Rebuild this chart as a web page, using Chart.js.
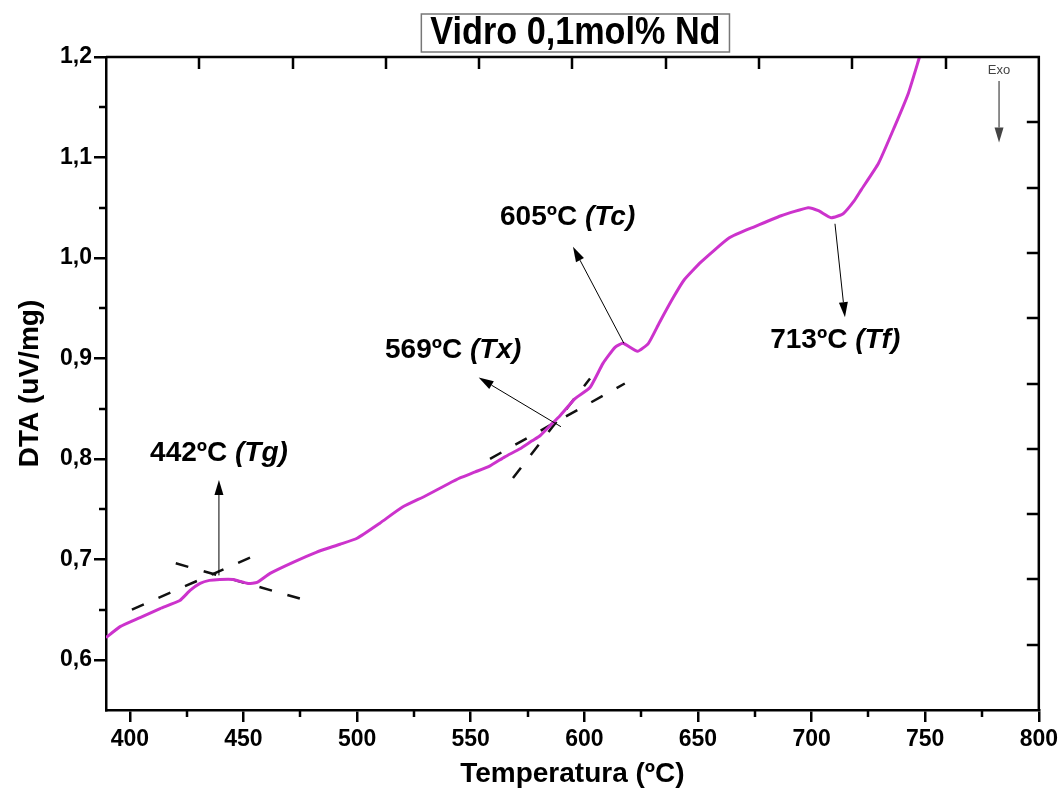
<!DOCTYPE html>
<html>
<head>
<meta charset="utf-8">
<title>Vidro 0,1mol% Nd</title>
<script src="https://cdn.jsdelivr.net/npm/chart.js@4.4.1/dist/chart.umd.min.js"></script>
<style>
  html, body { margin: 0; padding: 0; background: #fff; }
  #wrap { width: 1062px; height: 792px; }
</style>
</head>
<body>
<div id="wrap"><canvas id="dtaChart" width="1062" height="792"></canvas></div>
<script>
// curva DTA: temperatura (ºC) e sinal (uV/mg)
const temps = [389.5, 395.7, 404.5, 413.3, 422, 426.5, 430.9, 435, 439.6, 445.4, 452, 456, 461.7, 471.8, 482, 492.5,
  500, 510, 520, 530, 540, 545.3, 552, 558.5, 565, 571.7, 577, 580.5, 584.9, 589.3, 595.9, 602.5, 608.2, 613.5,
  617, 623.4, 628.2, 632.9, 639, 643.9, 651.4, 663.8, 674.8, 686.6, 698.5, 703, 708.6, 713.9, 718.8, 721.9,
  729.4, 736.4, 742.6, 747.5];
const dta = [0.622, 0.633, 0.642, 0.651, 0.659, 0.669, 0.676, 0.679, 0.680, 0.680, 0.676, 0.677, 0.686, 0.697, 0.707, 0.715,
  0.721, 0.736, 0.752, 0.763, 0.775, 0.781, 0.787, 0.793, 0.802, 0.810, 0.818, 0.823, 0.833, 0.843, 0.860, 0.871, 0.895, 0.911,
  0.915, 0.907, 0.915, 0.935, 0.960, 0.978, 0.996, 1.020, 1.031, 1.042, 1.050, 1.047, 1.040, 1.044, 1.057, 1.068,
  1.094, 1.130, 1.164, 1.200];

// retas tangentes (tracejadas) usadas para Tg e Tx
const tgBaseX = [400.9, 456.3], tgBaseY = [0.650, 0.705];
const tgSlopeX = [420.2, 476.3], tgSlopeY = [0.696, 0.660];
const txBaseX = [558.5, 617.8], txBaseY = [0.800, 0.875];
const txSlopeX = [568.6, 602.5], txSlopeY = [0.781, 0.880];

// eixos
const xTicks = [400, 450, 500, 550, 600, 650, 700, 750, 800];
const xMinor = [425, 475, 525, 575, 625, 675, 725, 775];
const yTicks = [0.6, 0.7, 0.8, 0.9, 1.0, 1.1, 1.2];
const yMinor = [0.65, 0.75, 0.85, 0.95, 1.05, 1.15];
const frameDivs = [1, 2, 3, 4, 5, 6, 7, 8, 9];

// anotações (temperatura, rótulo, posição do texto e seta em unidades dos eixos)
const notes = [
  { temp: '442ºC ', tag: '(Tg)', tx: 408.9, ty: 0.806, from: [439.2, 0.684], to: [439.2, 0.779] },
  { temp: '569ºC ', tag: '(Tx)', tx: 512.3, ty: 0.908, from: [589.7, 0.832], to: [553.5, 0.881] },
  { temp: '605ºC ', tag: '(Tc)', tx: 562.9, ty: 1.040, from: [617.4, 0.915], to: [595.0, 1.011] },
  { temp: '713ºC ', tag: '(Tf)', tx: 681.8, ty: 0.918, from: [710.3, 1.034], to: [714.7, 0.941] }
];
const exoNote = { x: 782.5, textY: 1.187, from: 1.176, to: 1.115 };

const FONT = "'Liberation Sans', Arial, sans-serif";
Chart.defaults.font.family = FONT;

const toPoints = (xs, ys) => xs.map((x, i) => ({ x: x, y: ys[i] }));

function drawArrow(ctx, x0, y0, x1, y1) {
  const ang = Math.atan2(y1 - y0, x1 - x0);
  const len = 15, half = 4.5;
  const bx = x1 - len * Math.cos(ang), by = y1 - len * Math.sin(ang);
  ctx.beginPath();
  ctx.moveTo(x0, y0);
  ctx.lineTo(bx, by);
  ctx.stroke();
  ctx.beginPath();
  ctx.moveTo(x1, y1);
  ctx.lineTo(bx + half * Math.sin(ang), by - half * Math.cos(ang));
  ctx.lineTo(bx - half * Math.sin(ang), by + half * Math.cos(ang));
  ctx.closePath();
  ctx.fill();
}

// moldura superior/direita e marcas secundárias
const frameTicks = {
  id: 'frameTicks',
  afterDraw(chart) {
    const { ctx, chartArea: a, scales } = chart;
    ctx.save();
    ctx.strokeStyle = '#000';
    ctx.lineWidth = 2.5;
    ctx.beginPath();
    ctx.moveTo(a.left, a.top);
    ctx.lineTo(a.right, a.top);
    ctx.lineTo(a.right, a.bottom);
    xMinor.forEach(v => {
      const px = Math.round(scales.x.getPixelForValue(v));
      ctx.moveTo(px, a.bottom);
      ctx.lineTo(px, a.bottom + 7);
    });
    yMinor.forEach(v => {
      const py = Math.round(scales.y.getPixelForValue(v));
      ctx.moveTo(a.left, py);
      ctx.lineTo(a.left - 7, py);
    });
    frameDivs.forEach(v => {
      const px = Math.round(scales.xTop.getPixelForValue(v));
      ctx.moveTo(px, a.top);
      ctx.lineTo(px, a.top + 12);
      const py = Math.round(scales.yRight.getPixelForValue(v));
      ctx.moveTo(a.right, py);
      ctx.lineTo(a.right - 12, py);
    });
    ctx.stroke();
    ctx.restore();
  }
};

// textos, setas, "Exo" e título em caixa
const annotations = {
  id: 'annotations',
  afterDraw(chart) {
    const { ctx, chartArea: a, scales: { x, y } } = chart;
    ctx.save();
    ctx.strokeStyle = '#000';
    ctx.fillStyle = '#000';
    ctx.lineWidth = 1;
    notes.forEach(n => {
      drawArrow(ctx, x.getPixelForValue(n.from[0]), y.getPixelForValue(n.from[1]),
        x.getPixelForValue(n.to[0]), y.getPixelForValue(n.to[1]));
      const px = x.getPixelForValue(n.tx), py = y.getPixelForValue(n.ty);
      ctx.textBaseline = 'middle';
      ctx.textAlign = 'left';
      ctx.font = 'bold 28px ' + FONT;
      ctx.fillText(n.temp, px, py);
      const w = ctx.measureText(n.temp).width;
      ctx.font = 'italic bold 28px ' + FONT;
      ctx.fillText(n.tag, px + w, py);
    });

    // Exo
    const ex = x.getPixelForValue(exoNote.x);
    ctx.fillStyle = '#444';
    ctx.strokeStyle = '#444';
    ctx.font = '13px ' + FONT;
    ctx.textAlign = 'center';
    ctx.fillText('Exo', ex, y.getPixelForValue(exoNote.textY));
    ctx.lineWidth = 1.2;
    drawArrow(ctx, ex, y.getPixelForValue(exoNote.from), ex, y.getPixelForValue(exoNote.to));

    // título com moldura
    const title = 'Vidro 0,1mol% Nd';
    const cx = (a.left + a.right) / 2 + 3;
    ctx.font = 'bold 38px ' + FONT;
    const squeeze = 0.9;
    const tw = ctx.measureText(title).width * squeeze;
    ctx.fillStyle = '#fff';
    ctx.fillRect(cx - tw / 2 - 9, 14, tw + 18, 38);
    ctx.strokeStyle = '#777';
    ctx.lineWidth = 1.5;
    ctx.strokeRect(cx - tw / 2 - 9, 14, tw + 18, 38);
    ctx.fillStyle = '#000';
    ctx.translate(cx, 34);
    ctx.scale(squeeze, 1);
    ctx.textAlign = 'center';
    ctx.textBaseline = 'middle';
    ctx.fillText(title, 0, 0);
    ctx.restore();
  }
};

const tangentStyle = {
  borderColor: '#111',
  borderWidth: 2.5,
  borderDash: [13, 16],
  pointRadius: 0,
  order: 1
};

new Chart(document.getElementById('dtaChart'), {
  type: 'line',
  data: {
    datasets: [
      { label: 'DTA', data: toPoints(temps, dta), borderColor: '#cc33cc', borderWidth: 3,
        pointRadius: 0, tension: 0.15, order: 0 },
      Object.assign({ label: 'Tg base', data: toPoints(tgBaseX, tgBaseY) }, tangentStyle),
      Object.assign({ label: 'Tg slope', data: toPoints(tgSlopeX, tgSlopeY) }, tangentStyle),
      Object.assign({ label: 'Tx base', data: toPoints(txBaseX, txBaseY) }, tangentStyle),
      Object.assign({ label: 'Tx slope', data: toPoints(txSlopeX, txSlopeY) }, tangentStyle)
    ]
  },
  options: {
    responsive: false,
    animation: false,
    events: [],
    layout: { padding: { top: 57, right: 23, left: 0, bottom: 0 } },
    plugins: { legend: { display: false }, tooltip: { enabled: false } },
    scales: {
      x: {
        type: 'linear', position: 'bottom', min: 389.5, max: 800,
        afterBuildTicks: s => { s.ticks = xTicks.map(v => ({ value: v })); },
        afterFit: s => { s.height = 82; },
        grid: { drawOnChartArea: false, tickLength: 12, color: '#000', lineWidth: 2.5 },
        border: { color: '#000', width: 2.5 },
        ticks: { color: '#000', padding: 4, maxRotation: 0, autoSkip: false,
          font: { size: 23, weight: 'bold' } },
        title: { display: true, text: 'Temperatura (ºC)', color: '#000',
          font: { size: 28, weight: 'bold' }, padding: { top: 0, bottom: 1 } }
      },
      y: {
        type: 'linear', position: 'left', min: 0.55, max: 1.2,
        afterBuildTicks: s => { s.ticks = yTicks.map(v => ({ value: v })); },
        afterFit: s => { s.width = 106; },
        grid: { drawOnChartArea: false, tickLength: 12, color: '#000', lineWidth: 2.5 },
        border: { color: '#000', width: 2.5 },
        ticks: { color: '#000', padding: 2, font: { size: 23, weight: 'bold' },
          callback: v => v.toFixed(1).replace('.', ',') },
        title: { display: true, text: 'DTA (uV/mg)', color: '#000',
          font: { size: 28, weight: 'bold' }, padding: { top: 13, bottom: 0 } }
      },
      xTop: { type: 'linear', position: 'top', min: 0, max: 10, display: false },
      yRight: { type: 'linear', position: 'right', min: 0, max: 10, display: false }
    }
  },
  plugins: [frameTicks, annotations]
});
</script>
</body>
</html>
